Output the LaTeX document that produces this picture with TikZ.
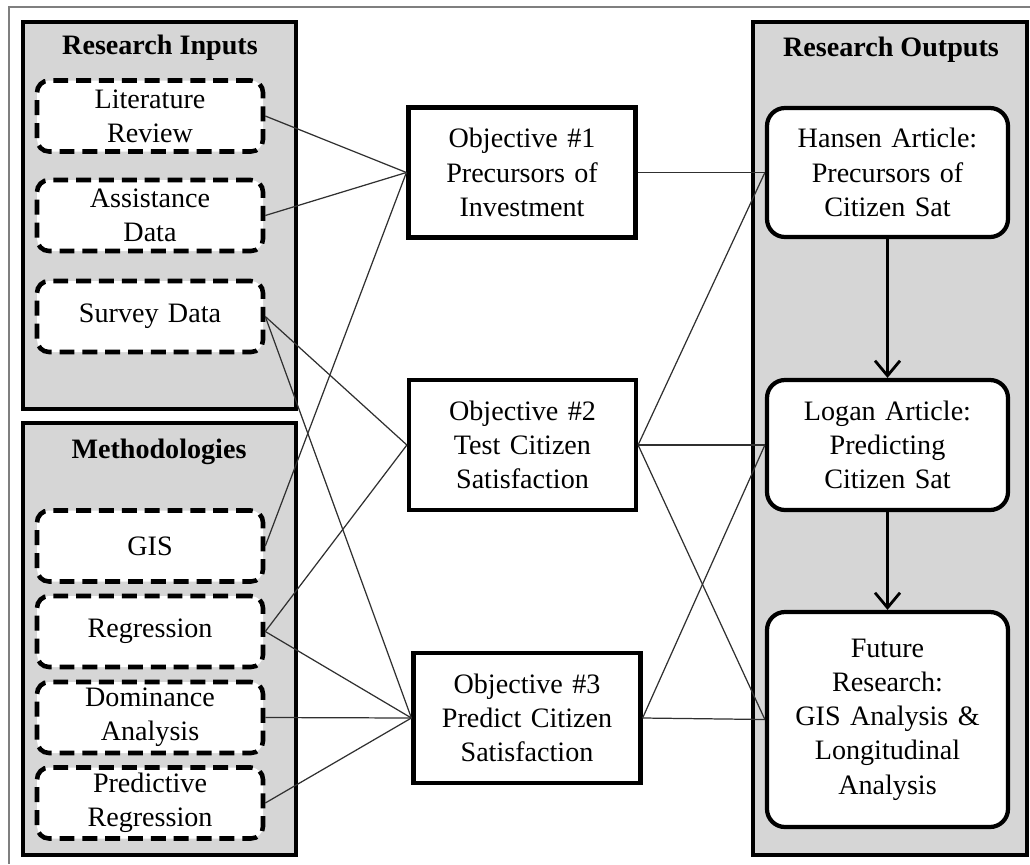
\documentclass[tikz,border=0pt]{standalone}
\usepackage{fontspec}
\setmainfont{Liberation Serif}
\usepackage{tikz}
\usetikzlibrary{arrows.meta,positioning}
\definecolor{panelGrey}{HTML}{D6D6D6}
\definecolor{frameGrey}{HTML}{7F7F7F}
\definecolor{linkDark}{HTML}{303030}

\begin{document}
\begin{tikzpicture}[
  font=\fontsize{16}{19.5}\selectfont,
  panel/.style={draw, line width=2.4pt, fill=panelGrey},
  paneltitle/.style={font=\fontsize{16}{19.5}\selectfont\bfseries},
  srcbox/.style={draw, line width=2.6pt, dash pattern=on 8.5pt off 4.5pt, fill=white,
    rounded corners=0.24cm, minimum width=4.52cm, minimum height=1.42cm,
    text width=4.2cm, align=center, inner sep=0pt},
  objbox/.style={draw, line width=2.4pt, fill=white, minimum width=4.54cm,
    minimum height=2.6cm, text width=4.3cm, align=center, inner sep=0pt},
  outbox/.style={draw, line width=2.4pt, fill=white, rounded corners=0.36cm,
    minimum width=4.82cm, text width=4.5cm, align=center, inner sep=0pt},
  link/.style={linkDark, line width=0.7pt},
  flow/.style={line width=1.6pt, -{Straight Barb[length=3mm, width=5mm]}}
]
  \useasboundingbox (0,0) rectangle (20.6,-17.28);
  \draw[frameGrey, line width=0.6pt] (20.6,-0.14) -- (0.18,-0.14) -- (0.18,-17.28);

  % the three grey panels
  \draw[panel] (0.46,-0.44) rectangle (5.92,-8.18);
  \draw[panel] (0.46,-8.46) rectangle (5.92,-17.1);
  \draw[panel] (15.06,-0.44) rectangle (20.54,-17.1);
  \node[paneltitle] (inTitle) at (3.2,-0.96) {Research Inputs};
  \node[paneltitle] (methTitle) at (3.18,-9.04) {Methodologies};
  \node[paneltitle] (outTitle) at (17.82,-1.0) {Research Outputs};

  % inputs and methods
  \node[srcbox] (litRev) at (3.0,-2.32) {Literature\\Review};
  \node[srcbox] (assistData) at (3.0,-4.31) {Assistance\\Data};
  \node[srcbox] (surveyData) at (3.0,-6.33) {Survey Data};
  \node[srcbox] (gis) at (3.0,-10.92) {GIS};
  \node[srcbox] (regr) at (3.0,-12.63) {Regression};
  \node[srcbox] (domAn) at (3.0,-14.35) {Dominance\\Analysis};
  \node[srcbox] (predRegr) at (3.0,-16.06) {Predictive\\Regression};

  % objectives
  \node[objbox] (obj1) at (10.44,-3.45) {Objective \#1\\Precursors of\\Investment};
  \node[objbox] (obj2) at (10.45,-8.9) {Objective \#2\\Test Citizen\\Satisfaction};
  \node[objbox] (obj3) at (10.54,-14.36) {Objective \#3\\Predict Citizen\\Satisfaction};

  % outputs
  \node[outbox, minimum height=2.58cm] (hansen) at (17.75,-3.45) {Hansen Article:\\Precursors of\\Citizen Sat};
  \node[outbox, minimum height=2.6cm] (logan) at (17.75,-8.9) {Logan Article:\\Predicting\\Citizen Sat};
  \node[outbox, minimum height=4.3cm] (future) at (17.75,-14.39) {Future\\Research:\\GIS Analysis \&\\Longitudinal\\Analysis};

  \draw[flow] (hansen) -- (logan);
  \draw[flow] (logan) -- (future);

  % links into the objectives
  \foreach \src/\obj in {litRev/obj1, assistData/obj1, gis/obj1,
      surveyData/obj2, regr/obj2,
      surveyData/obj3, regr/obj3, domAn/obj3, predRegr/obj3} {
    \draw[link] (\src.east) -- (\obj.west);
  }
  % links out of the objectives
  \foreach \obj/\out in {obj1/hansen, obj2/hansen, obj2/logan, obj2/future,
      obj3/logan, obj3/future} {
    \draw[link] (\obj.east) -- (\out.west);
  }
\end{tikzpicture}
\end{document}
